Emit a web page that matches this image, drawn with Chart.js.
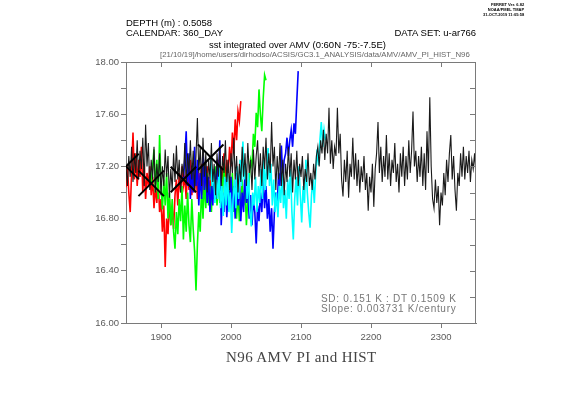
<!DOCTYPE html>
<html>
<head>
<meta charset="utf-8">
<script src="https://cdn.jsdelivr.net/npm/chart.js@4.4.0/dist/chart.umd.min.js"></script>
<style>
  body { margin: 0; background: #fff; }
  #wrap { position: relative; width: 561px; height: 397px; }
  .t { position: absolute; white-space: nowrap; line-height: 1; font-family: "Liberation Sans", Arial, sans-serif; color: #000; }
</style>
</head>
<body>
<div id="wrap">
  <canvas id="sstChart" width="561" height="397"></canvas>
  <div class="t" style="left:483px;top:2px;font-size:4px;font-weight:bold;line-height:5px;text-align:right;">FERRET Ver. 6.82<br>NOAA/PMEL TMAP<br>31-OCT-2019 11:05:58</div>
  <div class="t" style="left:126px;top:18px;font-size:9.5px;">DEPTH (m) : 0.5058</div>
  <div class="t" style="left:126px;top:28px;font-size:9.5px;">CALENDAR: 360_DAY</div>
  <div class="t" style="right:85px;top:28px;font-size:9.5px;">DATA SET: u-ar766</div>
  <div class="t" style="left:209px;top:40px;font-size:9.5px;">sst integrated over AMV (0:60N -75:-7.5E)</div>
  <div class="t" style="left:160px;top:51px;font-size:7.8px;color:#666;">[21/10/19]/home/users/dirhodso/ACSIS/GC3.1_ANALYSIS/data/AMV/AMV_PI_HIST_N96</div>
  <div class="t" style="left:321px;top:294px;font-size:10px;letter-spacing:0.7px;color:#777;">SD: 0.151 K : DT 0.1509 K</div>
  <div class="t" style="left:321px;top:304px;font-size:10px;letter-spacing:0.7px;color:#777;">Slope: 0.003731 K/century</div>
  <div class="t" style="left:226px;top:350px;font-size:15px;color:#444;letter-spacing:0.4px;font-family:'Liberation Serif','Times New Roman',serif;">N96 AMV PI and HIST</div>
</div>
<script>
  // years: each series is every 2nd year from its start
  var yearStep = 2;
  var piStart = 1850, redStart = 1850, greenStart = 1886, blueStart = 1932, cyanStart = 1971;

  // PI control (black)
  var piValues = [
    17.20,17.05,17.28,17.12,17.35,17.08,17.30,17.15,17.40,17.10,
    17.32,17.18,17.42,17.05,17.52,17.20,17.38,17.02,17.25,17.10,
    17.35,17.00,17.22,17.08,17.30,16.98,17.20,17.05,17.33,17.12,
    17.28,16.96,17.18,17.02,17.30,17.08,17.36,17.10,17.25,17.00,
    17.22,17.12,17.38,17.06,17.30,17.15,17.40,17.10,17.32,17.02,
    17.28,17.57,17.15,17.35,17.05,17.42,17.12,17.30,17.00,17.25,
    17.10,17.38,17.08,17.22,16.98,17.30,17.12,17.35,17.05,17.28,
    17.15,17.40,17.08,17.25,17.02,17.30,17.15,17.42,17.10,17.28,
    17.00,17.22,17.08,17.35,17.12,17.30,17.05,17.38,17.15,17.25,
    17.02,17.33,17.10,17.28,17.40,17.12,17.30,17.05,17.35,17.18,
    17.42,17.10,17.30,17.15,17.54,17.20,17.35,17.02,17.28,17.10,
    17.38,17.05,17.25,16.98,17.22,17.08,17.35,17.12,17.30,17.00,
    17.25,17.10,17.32,17.05,17.22,17.12,17.28,17.02,17.18,17.08,
    17.30,17.05,17.15,17.02,17.22,17.10,17.28,17.35,17.20,17.40,
    17.30,17.48,17.25,17.45,17.30,17.65,17.22,17.40,17.18,17.35,
    17.28,17.65,17.30,17.45,17.10,16.97,17.25,17.08,17.32,16.96,
    17.22,17.12,17.42,17.10,17.30,17.05,17.25,17.00,17.20,17.08,
    17.28,17.02,17.15,16.86,17.12,17.00,17.22,16.89,17.18,17.30,
    17.54,17.15,17.35,17.08,17.28,17.12,17.44,17.10,17.30,17.05,
    17.25,17.15,17.38,17.08,17.22,17.00,17.30,17.12,17.35,17.05,
    17.28,17.10,17.40,17.15,17.32,17.62,17.20,17.32,17.08,17.28,
    17.12,17.35,17.05,17.30,17.02,17.47,17.15,17.73,17.20,16.95,
    16.88,17.10,16.92,17.05,16.75,17.00,16.90,17.15,16.98,17.25,
    17.08,17.30,17.44,17.10,17.28,17.02,16.86,17.15,17.05,17.30,
    17.12,17.35,17.10,17.28,17.15,17.32,17.08,17.25,17.18,17.30,
    17.12
  ];

  // HIST members
  var redValues = [
    17.04,17.20,17.00,16.85,17.15,17.46,17.10,17.30,17.05,17.25,
    17.12,17.35,17.00,17.22,16.95,17.15,17.05,17.20,16.98,17.12,
    16.88,17.05,16.92,17.10,16.85,16.95,16.70,16.90,16.43,16.80,
    16.68,16.95,16.75,16.88,16.72,16.98,17.10,16.90,17.15,17.00,
    17.20,17.05,17.12,16.95,17.18,17.02,17.25,16.98,17.10,17.00,
    17.20,16.95,17.15,17.05,17.22,16.98,17.12,17.02,17.20,16.95,
    17.10,17.00,17.18,16.98,17.15,17.05,17.25,17.00,17.20,17.10,
    17.30,17.08,17.25,17.15,17.35,17.20,17.46,17.30,17.56,17.40,
    17.62,17.55,17.70
  ];
  var greenValues = [
    17.07,17.20,17.33,17.00,17.25,16.95,17.44,17.05,16.87,17.10,
    16.90,17.15,16.80,17.00,16.75,16.95,16.70,16.57,16.85,16.68,
    16.95,16.78,17.05,16.64,16.90,16.70,17.00,16.75,16.62,16.95,
    16.72,16.55,16.25,16.60,16.85,16.70,17.05,16.80,17.10,16.88,
    17.15,16.90,17.05,16.85,17.12,16.95,17.20,16.90,17.08,16.92,
    17.15,16.98,17.22,17.00,17.10,16.88,17.05,16.95,17.15,16.85,
    17.05,16.80,17.00,16.78,16.95,17.10,16.90,17.05,16.75,16.95,
    17.10,17.25,17.20,17.45,17.35,17.61,17.50,17.79,17.60,17.47,
    17.72,17.90,17.86
  ];
  var blueValues = [
    17.10,17.25,17.47,17.05,17.30,16.95,17.20,17.00,17.35,17.05,
    17.25,16.90,17.15,16.95,17.30,17.02,17.20,16.92,17.12,16.85,
    17.05,16.90,17.18,16.95,17.25,17.05,17.40,16.75,17.00,16.85,
    17.10,16.81,17.02,16.90,17.12,16.85,17.05,16.80,17.15,16.90,
    17.08,16.78,17.00,16.85,17.18,16.92,17.05,16.80,16.98,16.75,
    16.95,16.85,16.61,16.90,16.78,17.00,16.85,17.10,16.88,17.05,
    16.80,16.95,16.70,16.88,16.57,16.85,17.00,16.90,17.15,17.05,
    17.36,17.10,17.25,17.30,17.42,17.28,17.40,17.48,17.35,17.53,
    17.45,17.70,17.93
  ];
  var cyanValues = [
    17.27,17.05,17.18,16.92,17.10,16.95,17.20,16.88,17.05,16.82,
    17.12,16.90,17.15,16.85,17.00,16.69,16.95,17.10,16.88,17.20,
    16.95,17.25,17.05,17.39,17.10,17.22,16.95,17.15,16.85,16.74,
    17.00,16.90,17.12,16.85,17.05,16.92,17.18,16.95,17.25,17.02,
    17.20,17.34,17.05,17.22,16.90,17.10,16.85,17.00,16.81,17.05,
    16.92,17.15,16.88,17.02,16.80,17.10,16.95,17.18,16.85,16.64,
    16.95,17.12,16.90,17.20,16.98,16.77,17.05,16.92,17.25,17.00,
    16.85,16.73,16.98,17.10,16.92,17.15,17.33,17.21,17.40,17.54,
    17.35,17.48,17.40
  ];

  // branch points of the HIST runs off the PI run
  var branchYears = [1850, 1886, 1932, 1971];
  var branchValues = [17.20, 17.07, 17.10, 17.27];

  // axis ticks
  var xTickValues = [1900, 2000, 2100, 2200, 2300];
  var yTickValues = [16.0, 16.2, 16.4, 16.6, 16.8, 17.0, 17.2, 17.4, 17.6, 17.8, 18.0];

  function toPoints(start, vals) {
    return vals.map(function(v, i) { return { x: start + i * yearStep, y: v }; });
  }

  var axisGray = '#7a7a7a';
  var labelGray = '#5a5a5a';

  function lineSet(label, start, vals, color, width) {
    return {
      label: label,
      data: toPoints(start, vals),
      borderColor: color,
      borderWidth: width,
      pointRadius: 0,
      tension: 0,
      fill: false
    };
  }

  // frame on top and right with inward ticks
  var framePlugin = {
    id: 'frame',
    afterDraw: function(chart) {
      var ctx = chart.ctx, a = chart.chartArea;
      var xs = chart.scales.x, ys = chart.scales.y;
      ctx.save();
      ctx.strokeStyle = axisGray;
      ctx.lineWidth = 1;
      ctx.beginPath();
      ctx.moveTo(a.left, a.top + 0.5);
      ctx.lineTo(a.right, a.top + 0.5);
      ctx.moveTo(a.right - 0.5, a.top);
      ctx.lineTo(a.right - 0.5, a.bottom);
      xTickValues.forEach(function(v) {
        var px = Math.round(xs.getPixelForValue(v)) + 0.5;
        ctx.moveTo(px, a.top);
        ctx.lineTo(px, a.top + 5);
      });
      yTickValues.forEach(function(v) {
        var py = Math.round(ys.getPixelForValue(v)) + 0.5;
        ctx.moveTo(a.right, py);
        ctx.lineTo(a.right - 6, py);
      });
      ctx.stroke();
      ctx.restore();
    }
  };

  var ctx = document.getElementById('sstChart').getContext('2d');
  var sstChart = new Chart(ctx, {
    type: 'line',
    data: {
      datasets: [
        {
          label: 'branch',
          data: branchYears.map(function(y, i) { return { x: y, y: branchValues[i] }; }),
          showLine: false,
          pointStyle: 'crossRot',
          pointRadius: 18,
          pointBorderWidth: 2,
          pointBorderColor: '#000',
          borderColor: '#000'
        },
        lineSet('PI', piStart, piValues, '#1a1a1a', 1.1),
        lineSet('HIST 4', cyanStart, cyanValues, '#00ffff', 1.6),
        lineSet('HIST 3', blueStart, blueValues, '#0000ff', 1.6),
        lineSet('HIST 2', greenStart, greenValues, '#00ff00', 1.6),
        lineSet('HIST 1', redStart, redValues, '#ff0000', 1.6)
      ]
    },
    options: {
      responsive: false,
      animation: false,
      devicePixelRatio: 1,
      layout: { padding: { left: 0, right: 85, top: 62, bottom: 44 } },
      plugins: { legend: { display: false }, tooltip: { enabled: false } },
      scales: {
        x: {
          type: 'linear',
          min: 1850,
          max: 2350,
          afterBuildTicks: function(s) { s.ticks = xTickValues.map(function(v) { return { value: v }; }); },
          afterFit: function(s) { s.height = 30; },
          grid: { drawOnChartArea: false, drawTicks: true, tickLength: 5, color: axisGray },
          border: { color: axisGray, width: 1 },
          ticks: {
            color: labelGray,
            padding: 4,
            maxRotation: 0,
            font: { family: "'Liberation Sans', Arial, sans-serif", size: 9.5 },
            callback: function(v) { return String(v); }
          }
        },
        y: {
          type: 'linear',
          min: 16,
          max: 18,
          afterBuildTicks: function(s) { s.ticks = yTickValues.map(function(v) { return { value: v }; }); },
          afterFit: function(s) { s.width = 126; },
          grid: { drawOnChartArea: false, drawTicks: true, tickLength: 5, color: axisGray },
          border: { color: axisGray, width: 1 },
          ticks: {
            color: labelGray,
            padding: 2,
            font: { family: "'Liberation Sans', Arial, sans-serif", size: 9.5 },
            callback: function(v, i) { return i % 2 === 0 ? Number(v).toFixed(2) : ''; }
          }
        }
      }
    },
    plugins: [framePlugin]
  });
</script>
</body>
</html>
